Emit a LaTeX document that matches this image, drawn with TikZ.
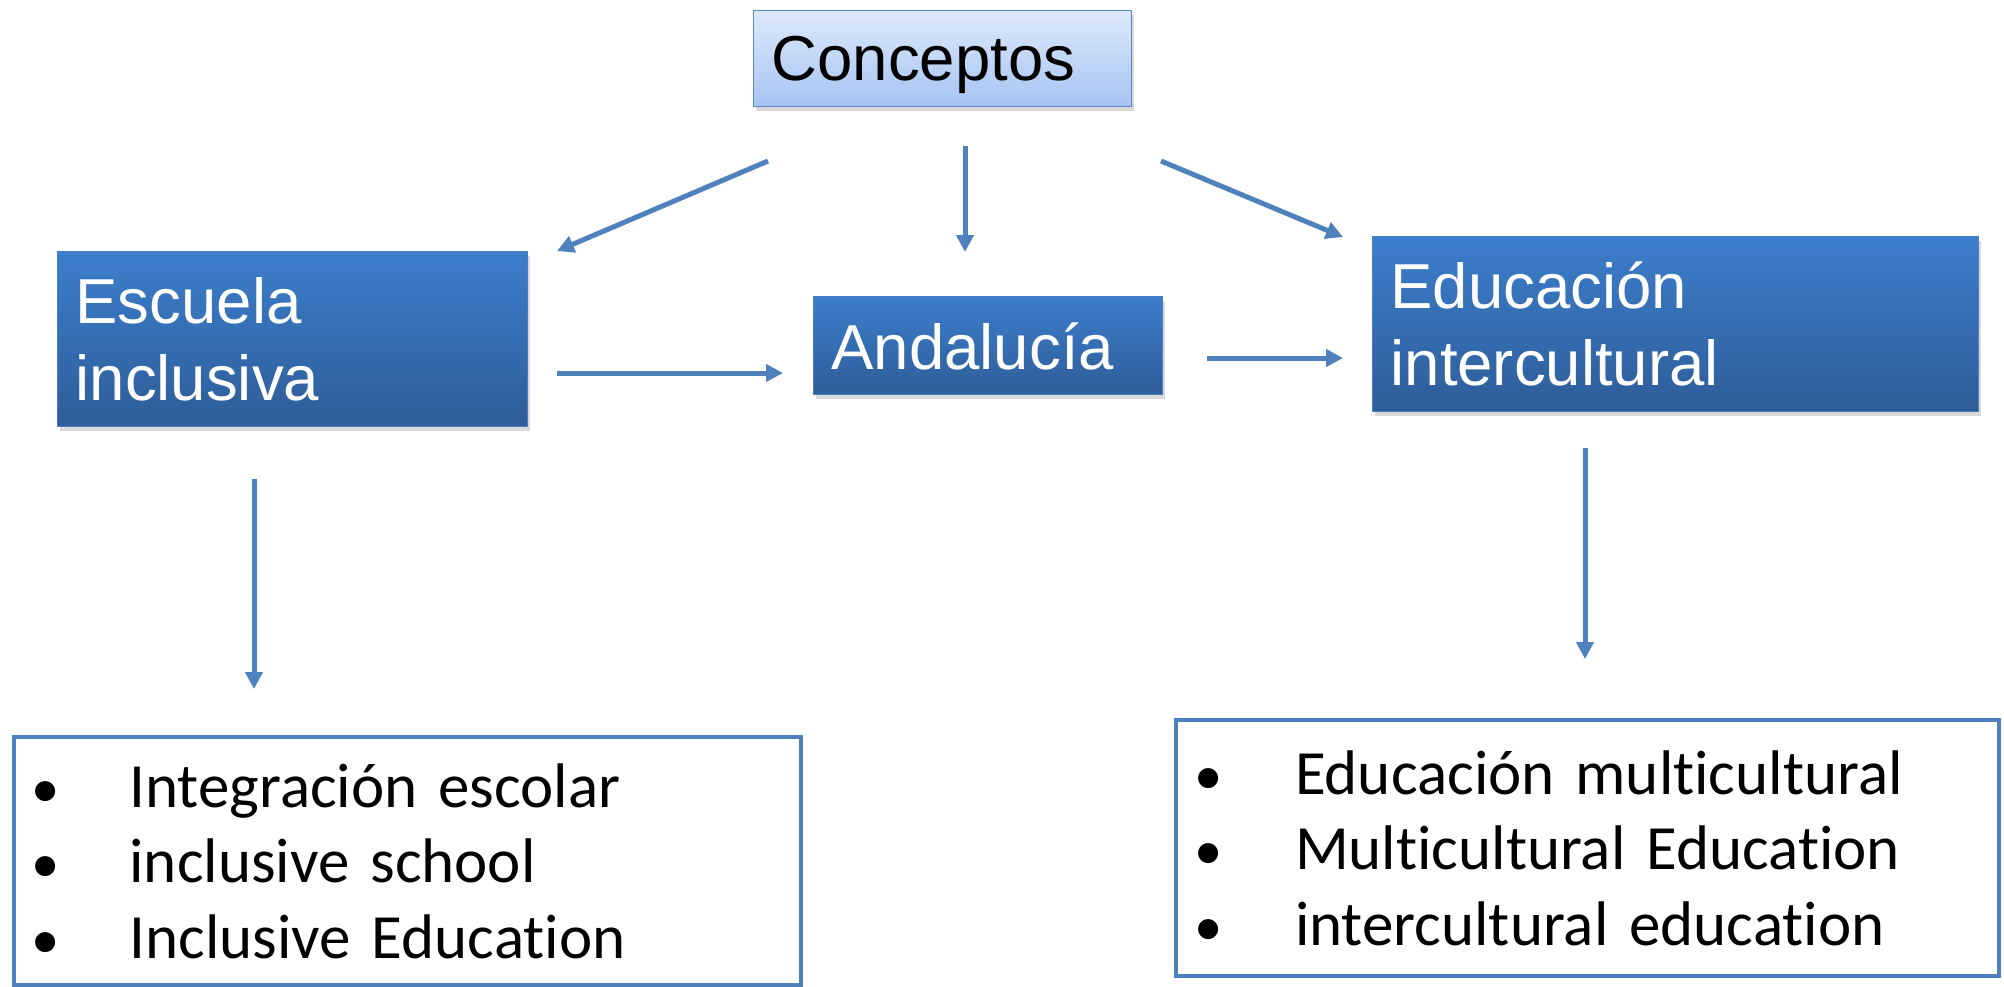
\documentclass[tikz,border=0pt]{standalone}
\usepackage{fontspec}
\setmainfont{Liberation Sans}
\newfontfamily\calib[Ligatures={NoCommon,NoRare,NoDiscretionary}]{Carlito}
\usetikzlibrary{arrows.meta,shadows,calc}
\definecolor{arrowblue}{HTML}{4F81BD}
\definecolor{boxtop}{HTML}{3C7ECC}
\definecolor{boxbot}{HTML}{2E5D98}
\definecolor{boxline}{HTML}{4A7EBE}
\definecolor{conctop}{HTML}{DDE9FB}
\definecolor{concbot}{HTML}{A6C4F3}
\definecolor{concline}{HTML}{5A88C6}
\newcommand{\lbul}[1]{\makebox[#1][l]{\hspace{0pt}\scalebox{0.9}{•}}}
\begin{document}
\begin{tikzpicture}[x=1pt,y=-1pt,
  darkbox/.style={draw=boxline, line width=1.2pt, top color=boxtop, bottom color=boxbot,
    text=white, font=\fontsize{63.5}{77}\selectfont, align=left, anchor=north west,
    inner xsep=18pt, inner ysep=0pt,
    drop shadow={shadow xshift=2pt, shadow yshift=-4pt, opacity=0.3}},
  concbox/.style={draw=concline, line width=1.2pt, top color=conctop, bottom color=concbot,
    text=black, font=\fontsize{63.5}{77}\selectfont, align=left, anchor=north west,
    inner xsep=18pt, inner ysep=0pt,
    drop shadow={shadow xshift=2pt, shadow yshift=-4pt, opacity=0.3}},
  listbox/.style={draw=arrowblue, line width=4pt, fill=white, text=black,
    font=\calib\fontsize{63}{75.5}\selectfont, align=left, anchor=north west,
    inner xsep=18pt, inner ysep=0pt},
  conn/.style={draw=arrowblue, line width=5pt, -{Triangle[length=17pt,width=17pt]}}
]
\useasboundingbox (0,0) rectangle (2004,986);

\node[concbox, minimum width=378pt, minimum height=96pt, text width=342pt,
      text height=48pt, text depth=4pt] (con) at (753,10) {Conceptos};

\node[darkbox, minimum width=470pt, minimum height=175pt, text width=434pt] (esc) at (57,251)
  {Escuela\\inclusiva};

\node[darkbox, minimum width=349pt, minimum height=98pt, text width=313pt,
      text height=48pt, text depth=0pt] (and) at (813,296) {Andalucía};

\node[darkbox, minimum width=606pt, minimum height=175pt, text width=570pt] (edu) at (1372,236)
  {Educación\\intercultural};

\node[listbox, minimum width=787pt, minimum height=248pt, text width=751pt] (lst1) at (11.5,735)
  {\lbul{98pt}Integración escolar\\
   \lbul{98pt}inclusive school\\
   \lbul{98pt}Inclusive Education};

\node[listbox, minimum width=823pt, minimum height=256pt, text width=787pt] (lst2) at (1174,718)
  {\lbul{101pt}Educación multicultural\\
   \lbul{101pt}Multicultural Education\\
   \lbul{101pt}intercultural education};

% connector end points
\coordinate (c1s) at (768,161);  \coordinate (c1e) at (557,251);
\coordinate (c2s) at (965,146);  \coordinate (c2e) at (965,252);
\coordinate (c3s) at (1161,161); \coordinate (c3e) at (1343,237);
\coordinate (c4s) at (557,373);  \coordinate (c4e) at (783,373);
\coordinate (c5s) at (1207,358); \coordinate (c5e) at (1343,358);
\coordinate (c6s) at (254,479);  \coordinate (c6e) at (254,689);
\coordinate (c7s) at (1585,448); \coordinate (c7e) at (1585,659);

\draw[conn] (c1s) -- (c1e);
\draw[conn] (c2s) -- (c2e);
\draw[conn] (c3s) -- (c3e);
\draw[conn] (c4s) -- (c4e);
\draw[conn] (c5s) -- (c5e);
\draw[conn] (c6s) -- (c6e);
\draw[conn] (c7s) -- (c7e);
\end{tikzpicture}
\end{document}
